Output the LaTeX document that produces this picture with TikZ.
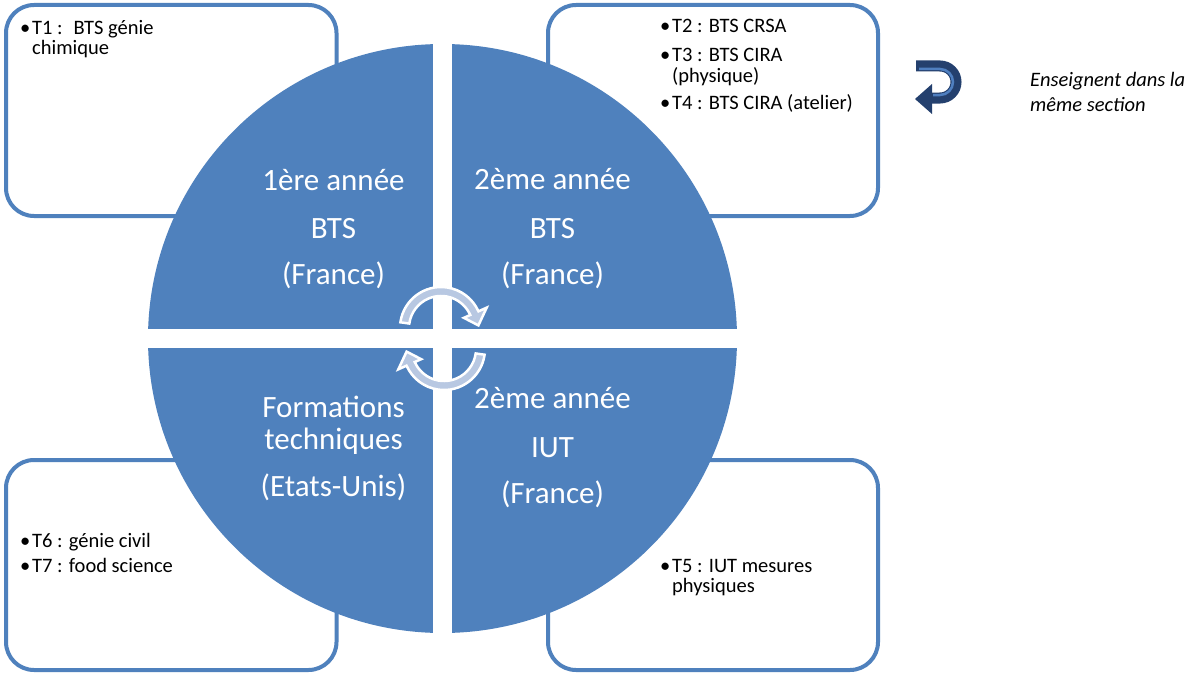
\documentclass[tikz,border=0pt]{standalone}
\usepackage{fontspec}
\setmainfont{Carlito}
\definecolor{qblue}{HTML}{4F81BD}
\definecolor{cyclefill}{HTML}{B8C8E2}
\definecolor{navy}{HTML}{24406E}
\definecolor{navylight}{HTML}{4F7FC0}
\newcommand{\bl}{\makebox[12pt][l]{•}}
\begin{document}
\begin{tikzpicture}[x=1pt,y=1pt,
  box/.style={draw=qblue, line width=4pt, fill=white, rounded corners=28pt},
  small/.style={font=\fontsize{20.5}{24}\selectfont, anchor=base west, inner sep=0pt, text=black},
  caption/.style={font=\fontsize{20.5}{24}\selectfont\itshape, anchor=base west, inner sep=0pt, text=black},
  big/.style={font=\fontsize{31}{37}\selectfont, anchor=base, inner sep=0pt, text=white},
  cyc/.style={fill=cyclefill, draw=white, line width=2.5pt, line join=miter}]
\useasboundingbox (0,0) rectangle (1189,-677);
\fill[white] (0,0) rectangle (1189,-677);
% boxes
\draw[box] (6,-5) rectangle (336.5,-216);
\draw[box] (548,-5) rectangle (878,-216);
\draw[box] (6,-460) rectangle (336.5,-670);
\draw[box] (548,-460) rectangle (878,-670);
% circle split in four quadrants
\fill[qblue] (442.5,-338.5) circle[radius=294.5pt];
\fill[white] (433,-40) rectangle (452,-640);
\fill[white] (140,-329) rectangle (745,-348);
% cycle arrows
\begin{scope}[shift={(441,-328)}]
\filldraw[cyc] (172:41pt) arc[start angle=172,end angle=24,radius=41pt] -- (24:50pt) -- (4:37.5pt) -- (24:25pt) -- (24:32pt) arc[start angle=24,end angle=172,radius=32pt] -- cycle;
\end{scope}
\begin{scope}[shift={(444,-349)}, rotate=180]
\filldraw[cyc] (172:41pt) arc[start angle=172,end angle=24,radius=41pt] -- (24:50pt) -- (4:37.5pt) -- (24:25pt) -- (24:32pt) arc[start angle=24,end angle=172,radius=32pt] -- cycle;
\end{scope}
% quadrant labels
\node[big] (q1a) at (333.5,-190) {1ère année};
\node[big] (q1b) at (333.5,-238) {BTS};
\node[big] (q1c) at (333.5,-284) {(France)};
\node[big] (q2a) at (552.5,-189) {2ème année};
\node[big] (q2b) at (552.5,-238) {BTS};
\node[big] (q2c) at (552.5,-284) {(France)};
\node[big] (q3a) at (333.5,-417) {Formations};
\node[big] (q3b) at (333.5,-449) {techniques};
\node[big] (q3c) at (333.5,-496) {(Etats-Unis)};
\node[big] (q4a) at (552.5,-408) {2ème année};
\node[big] (q4b) at (552.5,-457) {IUT};
\node[big] (q4c) at (552.5,-503) {(France)};
% box texts
\node[small] (t1) at (20,-35) {\bl T1 :~ BTS génie};
\node[small] (t1b) at (32,-55) {chimique};
\node[small] (t2) at (660,-33) {\bl T2 : BTS CRSA};
\node[small] (t3) at (660,-62) {\bl T3 : BTS CIRA};
\node[small] (t3b) at (672,-82) {(physique)};
\node[small] (t4) at (660,-110) {\bl T4 : BTS CIRA (atelier)};
\node[small] (t6) at (20,-547) {\bl T6 : génie civil};
\node[small] (t7) at (20,-572) {\bl T7 : food science};
\node[small] (t5) at (660,-572) {\bl T5 : IUT mesures};
\node[small] (t5b) at (672,-592) {physiques};
% legend arrow
\draw[navy, line width=11pt] (916,-66) -- (940,-66) arc[start angle=90,end angle=-90,radius=16pt] -- (931,-98);
\fill[navy] (932,-84) -- (932,-114) -- (915,-99) -- cycle;
\draw[navylight, line width=2.5pt] (919,-69) -- (940,-69) arc[start angle=90,end angle=-90,radius=13pt] -- (933,-95);
\node[caption] (leg1) at (1030,-86) {Enseignent dans la};
\node[caption] (leg2) at (1030,-111) {même section};
\end{tikzpicture}
\end{document}
